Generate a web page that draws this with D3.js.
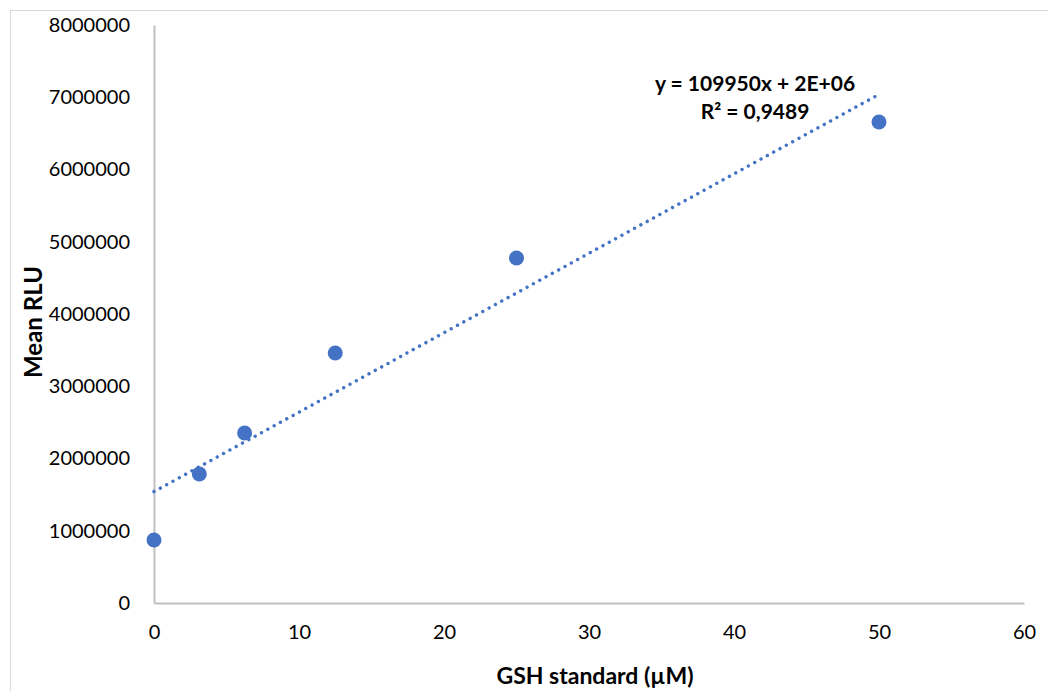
<!DOCTYPE html>
<html>
<head>
<meta charset="utf-8">
<script src="https://cdn.jsdelivr.net/npm/d3@7"></script>
<style>
  html, body { margin: 0; padding: 0; background: #fff; }
  svg { display: block; font-family: Lato, "Open Sans", sans-serif; }
</style>
</head>
<body>
<svg id="chart" width="1048" height="691"></svg>
<script>
// GSH standard concentrations (µM) and mean luminescence (RLU)
const gshConc = [0, 3.125, 6.25, 12.5, 25, 50];
const meanRLU = [872000, 1785000, 2353000, 3460000, 4775000, 6657000];

const xTicks = [0, 10, 20, 30, 40, 50, 60];
const yTicks = [0, 1000000, 2000000, 3000000, 4000000, 5000000, 6000000, 7000000, 8000000];

// Linear trendline: slope as reported on the chart, intercept through the data centroid
const trendSlope = 109950;
const trendLabel = ["y = 109950x + 2E+06", "R² = 0,9489"];

const svg = d3.select("#chart");
const W = 1048, H = 691;
const margin = { left: 154, right: 24, top: 25, bottom: 88 };

// outer chart frame
svg.append("rect")
  .attr("x", 10.5).attr("y", 10.5)
  .attr("width", W + 20).attr("height", H + 20)
  .attr("fill", "#fff").attr("stroke", "#d9d9d9").attr("stroke-width", 1);

const x = d3.scaleLinear().domain([0, 60]).range([margin.left, W - margin.right]);
const y = d3.scaleLinear().domain([0, 8000000]).range([H - margin.bottom, margin.top]);

const axisColor = "#bfbfbf";

// x axis
const gx = svg.append("g")
  .attr("transform", `translate(0,${y(0)})`)
  .call(d3.axisBottom(x).tickValues(xTicks).tickSize(0).tickPadding(22).tickFormat(d3.format("d")));
gx.select(".domain").attr("stroke", axisColor).attr("stroke-width", 2);
gx.selectAll("text").attr("font-size", 20).attr("fill", "#000").attr("font-family", "Lato, sans-serif");

// y axis
const gy = svg.append("g")
  .attr("transform", `translate(${x(0)},0)`)
  .call(d3.axisLeft(y).tickValues(yTicks).tickSize(0).tickPadding(24).tickFormat(d3.format("d")));
gy.select(".domain").attr("stroke", axisColor).attr("stroke-width", 2);
gy.selectAll("text").attr("font-size", 20).attr("fill", "#000").attr("font-family", "Lato, sans-serif");

// trendline
const meanX = d3.mean(gshConc), meanY = d3.mean(meanRLU);
const trendIntercept = meanY - trendSlope * meanX;
const trendPts = [0, 50].map(c => [c, trendIntercept + trendSlope * c]);
svg.append("path")
  .datum(trendPts)
  .attr("d", d3.line().x(d => x(d[0])).y(d => y(d[1])))
  .attr("fill", "none")
  .attr("stroke", "#4472c4")
  .attr("stroke-width", 3.4)
  .attr("stroke-linecap", "round")
  .attr("stroke-dasharray", "0.01 7.2");

// data points
svg.append("g").selectAll("circle")
  .data(gshConc.map((c, i) => [c, meanRLU[i]]))
  .join("circle")
  .attr("cx", d => x(d[0]))
  .attr("cy", d => y(d[1]))
  .attr("r", 7.5)
  .attr("fill", "#4472c4");

// trendline equation
svg.append("g").selectAll("text")
  .data(trendLabel)
  .join("text")
  .attr("x", 755)
  .attr("y", (d, i) => 91 + i * 28)
  .attr("text-anchor", "middle")
  .attr("font-size", 21)
  .attr("font-weight", "bold")
  .attr("fill", "#000")
  .text(d => d);

// axis titles
svg.append("text")
  .attr("x", (x(0) + x(60)) / 2 + 6)
  .attr("y", 684)
  .attr("text-anchor", "middle")
  .attr("font-size", 23)
  .attr("font-weight", "bold")
  .text("GSH standard (µM)");

svg.append("text")
  .attr("transform", `translate(42,${(y(0) + y(8000000)) / 2 + 8}) rotate(-90)`)
  .attr("text-anchor", "middle")
  .attr("font-size", 24)
  .attr("font-weight", "bold")
  .text("Mean RLU");
</script>
</body>
</html>
